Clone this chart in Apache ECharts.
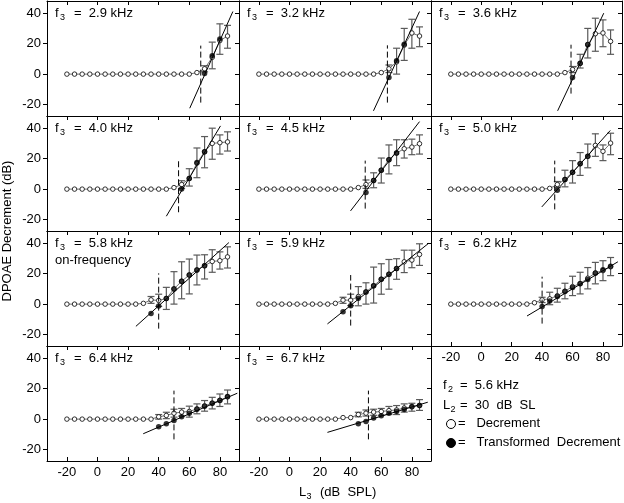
<!DOCTYPE html>
<html><head><meta charset="utf-8">
<script src="https://cdn.jsdelivr.net/npm/echarts@6/dist/echarts.min.js"></script>
<style>html,body{margin:0;padding:0;background:#fff}#c{width:624px;height:503px}</style>
</head><body><div id="c"></div>
<script>
// ---- data ----
const levels = [-20,-15,-10,-5,0,5,10,15,20,25,30,35,40,45,50,55,60,65,70,75,80,85];
const xTicks = [-20,0,20,40,60,80];
const yTicks = [-20,0,20,40];
const f3Labels = ['2.9','3.2','3.6','4.0','4.5','5.0','5.8','5.9','6.2','6.4','6.7'];

// Decrement (open circles), one value per level
const dec_29 = [0,0,0,0,0,0,0,0,0,0,0,0,0,0,0,0,0,1,3.5,11,22,25];
const dec_32 = [0,0,0,0,0,0,0,0,0,0,0,0,0,0,0,0,1,3.5,8,19,27,25];
const dec_36 = [0,0,0,0,0,0,0,0,0,0,0,0,0,0,0,1,3,7,19.5,26.5,27,21.5];
const dec_40 = [0,0,0,0,0,0,0,0,0,0,0,0,0,0,1,3,7,17,24.5,30,30.5,31];
const dec_45 = [0,0,0,0,0,0,0,0,0,0,0,0,0,1,3,5.7,12.4,19.3,23.7,26.5,27.6,29.8];
const dec_50 = [0,0,0,0,0,0,0,0,0,0,0,0,0,0.5,3,6.3,11,16.7,21.5,28.7,24.8,30.2];
const dec_58 = [0,0,0,0,0,0,0,0,0,0,0.5,2.8,2.4,3.7,10,15,19.1,22.4,25.2,28,28.5,31];
const dec_59 = [0,0,0,0,0,0,0,0,0,0,0.5,2.6,2.6,5,8,12,16.3,19.6,23.3,27.8,28.9,32.6];
const dec_62 = [0,0,0,0,0,0,0,0,0,0,0,0.9,2.8,3.5,5.5,8.5,11.5,13.5,17,20.5,22,24.5];
const dec_64 = [0,0,0,0,0,0,0,0,0,0,0,0,1.5,2.4,3.9,4.6,5,6.7,8.7,10.5,12.4,14.6];
const dec_67 = [0,0,0,0,0,0,0,0,0,0,0,1,1,3,3.9,4.6,5,5.6,6,7.3,8,9];

// Transformed decrement (filled circles): [L3, value]
const trans_29 = [[70,0.4],[75,12],[80,23]];
const trans_32 = [[65,-2.2],[70,8.7],[75,19.6]];
const trans_36 = [[60,-2.2],[65,7.2],[70,19.3]];
const trans_40 = [[55,0],[60,7],[65,17.4],[70,24.6]];
const trans_45 = [[50,-2.2],[55,5.7],[60,12.4],[65,19.3],[70,23.7]];
const trans_50 = [[50,-0.7],[55,6.3],[60,11],[65,16.7],[70,21.5]];
const trans_58 = [[35,-6.1],[40,-1.3],[45,3.7],[50,10],[55,15],[60,19.1],[65,22.4],[70,25.2]];
const trans_59 = [[35,-5],[40,-1.1],[45,3.9],[50,8],[55,12],[60,16.3],[65,19.6],[70,23.3]];
const trans_62 = [[40,-1.5],[45,2],[50,5],[55,8.3],[60,10.9],[65,13.3],[70,16.1],[75,20.2],[80,22.6],[85,24.8]];
const trans_64 = [[40,-5],[45,-3],[50,-0.9],[55,1.5],[60,3.9],[65,6.5],[70,8.5],[75,10.4],[80,12.2],[85,14.8]];
const trans_67 = [[45,-3],[50,-1.5],[55,0.7],[60,2.2],[65,3.9],[70,5],[75,6.3],[80,8.3],[85,8.9]];

// Error bars: [L3, low, high]
const err_29 = [[70,1.5,5.5],[75,3.5,21],[80,13,33],[85,17,32]];
const err_32 = [[65,1,6],[70,0,17],[75,9,30],[80,17,36],[85,18,31]];
const err_36 = [[60,1,5],[65,4,13],[70,10.6,30],[75,15,36.7],[80,18,35.6],[85,13,29]];
const err_40 = [[55,0.5,5.5],[60,2,13.4],[65,7.5,27],[70,14,34.5],[75,19.6,40],[80,23,35.6],[85,25,37.6]];
const err_45 = [[50,0.5,6],[55,0.9,10.7],[60,4,20.4],[65,10,29],[70,15.4,32.4],[75,20.4,32.4],[80,22.6,32.8],[85,23,35.6]];
const err_50 = [[50,1,5],[55,1.5,12.4],[60,4,18.7],[65,9,24],[70,14,29.6],[75,21.5,36.3],[80,18.7,29],[85,22.6,36.7]];
const err_58 = [[35,0.5,5],[40,-1.5,6.5],[45,-3.5,11],[50,0,21.3],[55,3.5,27.8],[60,6.7,29.6],[65,12.6,32.2],[70,16.5,32.4],[75,20.9,35.7],[80,23,34.3],[85,23.7,37.6]];
const err_59 = [[35,0.5,4.5],[40,-1,6.5],[45,-1.1,11.5],[50,0,14],[55,0.7,24.3],[60,6.5,26.5],[65,9.8,29.3],[70,16.3,29.8],[75,20.7,35.4],[80,23.9,35.4],[85,25.4,39.6]];
const err_62 = [[40,1,4.5],[45,-0.4,7.8],[50,1.3,10.4],[55,3.5,13.7],[60,5.6,18.3],[65,6.7,20.9],[70,10,24],[75,13.3,27.4],[80,15.4,28.5],[85,18.7,30.6]];
const err_64 = [[40,0,3],[45,0.3,4.5],[50,1.3,6.5],[55,2,7],[60,1.3,8.5],[65,3.5,10],[70,5.2,12.2],[75,6.7,14.3],[80,8.3,16.5],[85,10,19.1]];
const err_67 = [[45,1.5,4.5],[50,2,6],[55,2.5,6.5],[60,2.5,7],[65,3,8.3],[70,3,8.9],[75,4.6,10],[80,5.2,10.4],[85,5.7,12.8]];

// Regression fit line: [L3 start, dB start, L3 end, dB end]
const fit_29 = [60.3,-22.4,88.5,41.1];
const fit_32 = [54.9,-24.1,85,41.1];
const fit_36 = [50.2,-24.1,80.5,40];
const fit_40 = [45,-17.8,80.4,41.5];
const fit_45 = [39.9,-14.3,85,44.3];
const fit_50 = [39.8,-11.7,84.8,38.5];
const fit_58 = [25.1,-14.6,85.9,40.4];
const fit_59 = [24.8,-13,90.8,39.8];
const fit_62 = [30.1,-7.8,89.8,27.8];
const fit_64 = [29.9,-9.6,91.4,17];
const fit_67 = [24.8,-8.7,90.4,11.1];

// Threshold dashed marker: [L3, dB low, dB high]
const thr_29 = [67.5,-18.7,18.7];
const thr_32 = [64,-18.7,18.9];
const thr_36 = [59,-12.8,19.3];
const thr_40 = [53,-15.2,18.9];
const thr_45 = [49.5,-12.8,18.7];
const thr_50 = [48.3,-13.3,18.7];
const thr_58 = [40,-16.1,20.2];
const thr_59 = [40,-14.1,19.1];
const thr_62 = [40,-12.8,18];
const thr_64 = [50,-13.3,18.7];
const thr_67 = [51.6,-13.3,18.7];

const panels = [
  {dec:dec_29,trans:trans_29,err:err_29,fit:fit_29,thr:thr_29},
  {dec:dec_32,trans:trans_32,err:err_32,fit:fit_32,thr:thr_32},
  {dec:dec_36,trans:trans_36,err:err_36,fit:fit_36,thr:thr_36},
  {dec:dec_40,trans:trans_40,err:err_40,fit:fit_40,thr:thr_40},
  {dec:dec_45,trans:trans_45,err:err_45,fit:fit_45,thr:thr_45},
  {dec:dec_50,trans:trans_50,err:err_50,fit:fit_50,thr:thr_50},
  {dec:dec_58,trans:trans_58,err:err_58,fit:fit_58,thr:thr_58},
  {dec:dec_59,trans:trans_59,err:err_59,fit:fit_59,thr:thr_59},
  {dec:dec_62,trans:trans_62,err:err_62,fit:fit_62,thr:thr_62},
  {dec:dec_64,trans:trans_64,err:err_64,fit:fit_64,thr:thr_64},
  {dec:dec_67,trans:trans_67,err:err_67,fit:fit_67,thr:thr_67}
];

// ---- layout ----
const FONT = '"Liberation Sans", Arial, Helvetica, sans-serif';
const colLeft = [47, 239, 431];
const colW = [192, 192, 191];
const rowTop = [1, 116, 231, 346];
const rowH = 115;
const XMIN = -33, XMAX = 92.5, YMIN = -27.5, YMAX = 48;

const grid = [], xAxis = [], yAxis = [], series = [], graphic = [];
const black = '#000';
const lbl = {color:'#000', fontSize:13, fontFamily:FONT};
const F13 = '13px ' + FONT, F9 = '9px ' + FONT;

panels.forEach((p, i) => {
  const r = Math.floor(i/3), c = i%3;
  grid.push({left:colLeft[c], top:rowTop[r], width:colW[c], height:rowH, containLabel:false});
  const showX = i >= 8;
  const showY = c === 0;
  const axLine = {show:true, onZero:false, lineStyle:{color:black, width:1}};
  xAxis.push({gridIndex:i, type:'value', min:XMIN, max:XMAX, position:'bottom', axisLine:axLine,
    axisTick:{show:showX, inside:true, length:4, customValues:xTicks, lineStyle:{color:black}},
    axisLabel:{show:showX, customValues:xTicks, margin:5, ...lbl}, splitLine:{show:false}});
  xAxis.push({gridIndex:i, type:'value', min:XMIN, max:XMAX, position:'top', axisLine:axLine,
    axisTick:{show:true, inside:true, length:4, customValues:xTicks, lineStyle:{color:black}},
    axisLabel:{show:false}, splitLine:{show:false}});
  yAxis.push({gridIndex:i, type:'value', min:YMIN, max:YMAX, position:'left', axisLine:axLine,
    axisTick:{show:showY, inside:false, length:4, customValues:yTicks, lineStyle:{color:black}},
    axisLabel:{show:showY, customValues:yTicks, margin:6, ...lbl}, splitLine:{show:false}});
  yAxis.push({gridIndex:i, type:'value', min:YMIN, max:YMAX, position:'right', axisLine:axLine,
    axisTick:{show:true, inside:true, length:4, customValues:yTicks, lineStyle:{color:black}},
    axisLabel:{show:false}, splitLine:{show:false}});

  const xi = 2*i, yi = 2*i;
  series.push({type:'custom', xAxisIndex:xi, yAxisIndex:yi, z:2, silent:true,
    data:p.err, encode:{x:0, y:[1,2]},
    renderItem:(params, api) => {
      const x = api.value(0);
      const a = api.coord([x, api.value(1)]);
      const b = api.coord([x, api.value(2)]);
      const w = 3.5;
      const st = {stroke:'#5a5a5a', lineWidth:1.2};
      return {type:'group', children:[
        {type:'line', shape:{x1:a[0],y1:a[1],x2:b[0],y2:b[1]}, style:st},
        {type:'line', shape:{x1:a[0]-w,y1:a[1],x2:a[0]+w,y2:a[1]}, style:st},
        {type:'line', shape:{x1:b[0]-w,y1:b[1],x2:b[0]+w,y2:b[1]}, style:st}
      ]};
    }});
  series.push({type:'line', xAxisIndex:xi, yAxisIndex:yi, z:3, silent:true,
    data:levels.map((L,k)=>[L, p.dec[k]]),
    symbol:'circle', symbolSize:4.5, showSymbol:true,
    itemStyle:{color:'#fff', borderColor:'#000', borderWidth:0.8},
    lineStyle:{color:'#333', width:0.7}});
  series.push({type:'line', xAxisIndex:xi, yAxisIndex:yi, z:4, silent:true,
    data:[[p.fit[0],p.fit[1]],[p.fit[2],p.fit[3]]], symbol:'none',
    lineStyle:{color:'#000', width:1}});
  series.push({type:'line', xAxisIndex:xi, yAxisIndex:yi, z:4, silent:true,
    data:[[p.thr[0],p.thr[1]],[p.thr[0],p.thr[2]]], symbol:'none',
    lineStyle:{color:'#000', width:1, type:[6,3]}});
  series.push({type:'scatter', xAxisIndex:xi, yAxisIndex:yi, z:5, silent:true,
    data:p.trans, symbol:'circle', symbolSize:5.5, itemStyle:{color:'#000'}});

  const lx = colLeft[c] + 8, ly = rowTop[r] + 6;
  graphic.push({type:'text', left:lx, top:ly, style:{text:'f', font:F13, fill:'#000'}});
  graphic.push({type:'text', left:lx+5, top:ly+6, style:{text:'3', font:F9, fill:'#000'}});
  graphic.push({type:'text', left:lx+19, top:ly, style:{text:'=  '+f3Labels[i]+' kHz', font:F13, fill:'#000'}});
  if (i === 6) {
    graphic.push({type:'text', left:lx, top:ly+17, style:{text:'on-frequency', font:F13, fill:'#000'}});
  }
});

// axis titles
graphic.push({type:'text', x:7, y:231, rotation:Math.PI/2,
  style:{text:'DPOAE Decrement (dB)', font:F13, fill:'#000', align:'center', verticalAlign:'middle'}});
graphic.push({type:'text', left:299, top:486, style:{text:'L', font:F13, fill:'#000'}});
graphic.push({type:'text', left:306.5, top:492, style:{text:'3', font:F9, fill:'#000'}});
graphic.push({type:'text', left:320, top:486, style:{text:'(dB  SPL)', font:F13, fill:'#000'}});

// legend block
const gx = 443;
graphic.push({type:'text', left:gx, top:379, style:{text:'f', font:F13, fill:'#000'}});
graphic.push({type:'text', left:gx+5, top:385, style:{text:'2', font:F9, fill:'#000'}});
graphic.push({type:'text', left:gx+17, top:379, style:{text:'=  5.6 kHz', font:F13, fill:'#000'}});
graphic.push({type:'text', left:gx, top:399, style:{text:'L', font:F13, fill:'#000'}});
graphic.push({type:'text', left:gx+7.5, top:405, style:{text:'2', font:F9, fill:'#000'}});
graphic.push({type:'text', left:gx+17, top:399, style:{text:'=  30  dB  SL', font:F13, fill:'#000'}});
graphic.push({type:'circle', shape:{cx:gx+8, cy:424, r:4.5}, style:{fill:'#fff', stroke:'#000', lineWidth:1}});
graphic.push({type:'text', left:gx+15, top:417, style:{text:'=   Decrement', font:F13, fill:'#000'}});
graphic.push({type:'circle', shape:{cx:gx+8, cy:443, r:4.5}, style:{fill:'#000', stroke:'#000', lineWidth:1}});
graphic.push({type:'text', left:gx+15, top:436, style:{text:'=   Transformed  Decrement', font:F13, fill:'#000'}});

const chart = echarts.init(document.getElementById('c'), null, {renderer:'canvas'});
chart.setOption({animation:false, backgroundColor:'#fff', textStyle:{fontFamily:FONT},
  grid, xAxis, yAxis, series, graphic});
</script></body></html>
